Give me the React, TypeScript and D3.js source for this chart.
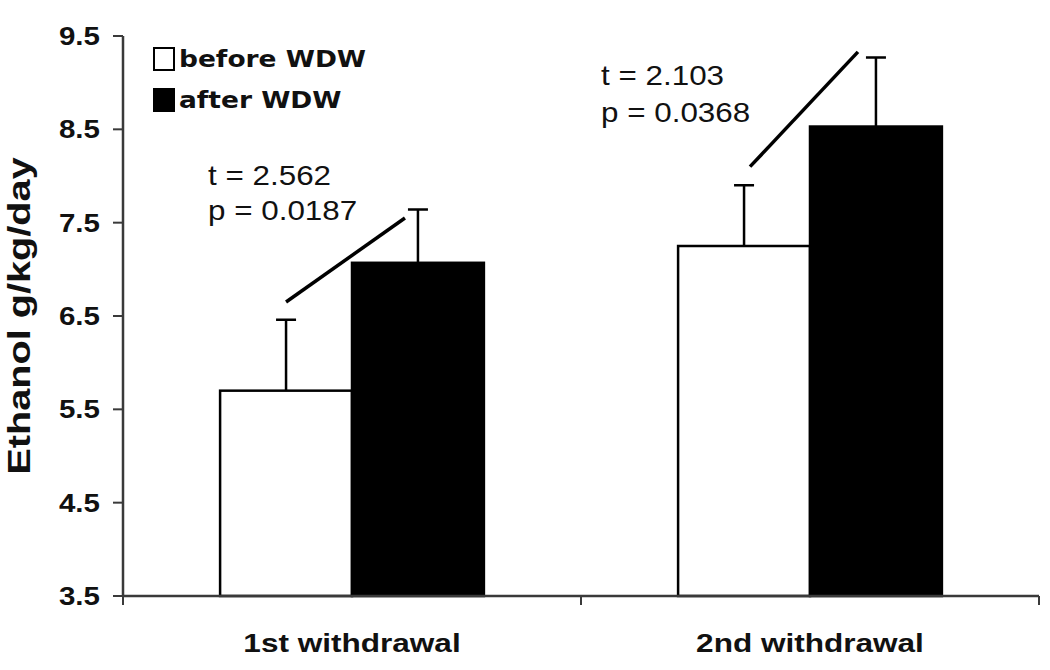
import React, { useEffect, useRef } from 'react'
import * as d3 from 'd3'

const categories = ['1st withdrawal', '2nd withdrawal']
const seriesNames = ['before WDW', 'after WDW']
const beforeValues = [5.7, 7.25]
const afterValues = [7.07, 8.53]
const beforeErr = [0.76, 0.65]
const afterErr = [0.57, 0.74]
const yTicks = [3.5, 4.5, 5.5, 6.5, 7.5, 8.5, 9.5]
const tLabels = ['t = 2.562', 't = 2.103']
const pLabels = ['p = 0.0187', 'p = 0.0368']
// significance line ends (in y units)
const sigFrom = [6.65, 8.1]
const sigTo = [7.55, 9.33]
// where the t / p text sits (y units)
const tTextY = [7.9, 8.975]
const pTextY = [7.53, 8.58]

const W = 1050
const H = 670
const FILLS = ['#ffffff', '#000000']

// stretch text horizontally, the figure's fonts are wider than Arial
function widen(sel: any, k: number) {
  sel.each(function (this: any) {
    const len = this.getComputedTextLength()
    d3.select(this).attr('textLength', len * k).attr('lengthAdjust', 'spacingAndGlyphs')
  })
}

export default function App() {
  const svgRef = useRef<SVGSVGElement>(null)

  useEffect(() => {
    document.body.style.margin = '0'
    const svg = d3.select(svgRef.current)
    svg.selectAll('*').remove()

    const left = 123
    const right = 1039
    const top = 36
    const bottom = 596

    const x = d3.scaleBand().domain(categories).range([left, right])
      .paddingInner(0.424).paddingOuter(0.212)
    const xs = d3.scaleBand().domain(seriesNames).range([0, x.bandwidth()])
    const y = d3.scaleLinear().domain([3.5, 9.5]).range([bottom, top])

    const rows = categories.map((c, i) => ({
      cat: c,
      bars: [
        { s: seriesNames[0], v: beforeValues[i], e: beforeErr[i], fill: FILLS[0] },
        { s: seriesNames[1], v: afterValues[i], e: afterErr[i], fill: FILLS[1] },
      ],
    }))

    const g = svg.append('g')

    // bars
    const grp = g.selectAll('g.grp').data(rows).join('g')
      .attr('class', 'grp')
      .attr('transform', d => `translate(${x(d.cat)},0)`)

    grp.selectAll('rect').data(d => d.bars).join('rect')
      .attr('x', d => xs(d.s)!)
      .attr('y', d => y(d.v))
      .attr('width', xs.bandwidth())
      .attr('height', d => y(3.5) - y(d.v))
      .attr('fill', d => d.fill)
      .attr('stroke', '#000')
      .attr('stroke-width', 2.5)

    // error bars (upper only)
    const cap = 10
    grp.selectAll('path.err').data(d => d.bars).join('path')
      .attr('class', 'err')
      .attr('fill', 'none')
      .attr('stroke', '#000')
      .attr('stroke-width', 2.5)
      .attr('d', d => {
        const cx = xs(d.s)! + xs.bandwidth() / 2
        return `M${cx},${y(d.v)}V${y(d.v + d.e)}M${cx - cap},${y(d.v + d.e)}H${cx + cap}`
      })

    // significance lines + text
    rows.forEach((r, i) => {
      const x0 = x(r.cat)!
      const bcx = x0 + xs(seriesNames[0])! + xs.bandwidth() / 2
      const acx = x0 + xs(seriesNames[1])! + xs.bandwidth() / 2
      g.append('line')
        .attr('x1', bcx + (i === 0 ? 0 : 6))
        .attr('y1', y(sigFrom[i]))
        .attr('x2', acx - (i === 0 ? 13 : 18))
        .attr('y2', y(sigTo[i]))
        .attr('stroke', '#000')
        .attr('stroke-width', 3.5)

      const tx = x0 + (i === 0 ? -12 : -77)
      const txt = g.append('g')
        .attr('font-family', '"Liberation Sans", Arial, sans-serif')
        .attr('font-size', 28)
        .attr('fill', '#111')
      txt.append('text').attr('x', tx).attr('y', y(tTextY[i])).text(tLabels[i])
      txt.append('text').attr('x', tx).attr('y', y(pTextY[i])).text(pLabels[i])
      widen(txt.selectAll('text'), 1.12)
    })

    // axes
    const axisColor = '#3a3a3a'
    g.append('line')
      .attr('x1', left).attr('x2', left)
      .attr('y1', y(9.5)).attr('y2', y(3.5))
      .attr('stroke', axisColor).attr('stroke-width', 2.5)
    g.append('line')
      .attr('x1', left).attr('x2', right)
      .attr('y1', bottom).attr('y2', bottom)
      .attr('stroke', axisColor).attr('stroke-width', 2.5)

    g.selectAll('line.ytick').data(yTicks).join('line')
      .attr('class', 'ytick')
      .attr('x1', left - 10).attr('x2', left)
      .attr('y1', d => y(d)).attr('y2', d => y(d))
      .attr('stroke', axisColor).attr('stroke-width', 2)

    const ylab = g.selectAll('text.ytl').data(yTicks).join('text')
      .attr('class', 'ytl')
      .attr('x', left - 23)
      .attr('y', d => y(d))
      .attr('dy', '0.36em')
      .attr('text-anchor', 'end')
      .attr('font-family', '"Liberation Sans", Arial, sans-serif')
      .attr('font-weight', 'bold')
      .attr('font-size', 25)
      .attr('fill', '#111')
      .text(d => d.toFixed(1))
    widen(ylab, 1.18)

    const xTickPos = [left, (x(categories[0])! + x(categories[1])! + x.bandwidth()) / 2, right]
    g.selectAll('line.xtick').data(xTickPos).join('line')
      .attr('class', 'xtick')
      .attr('x1', d => d).attr('x2', d => d)
      .attr('y1', bottom).attr('y2', bottom + 9)
      .attr('stroke', axisColor).attr('stroke-width', 2)

    const xlab = g.selectAll('text.xtl').data(categories).join('text')
      .attr('class', 'xtl')
      .attr('x', d => x(d)! + x.bandwidth() / 2)
      .attr('y', 652)
      .attr('text-anchor', 'middle')
      .attr('font-family', '"Liberation Sans", Arial, sans-serif')
      .attr('font-weight', 'bold')
      .attr('font-size', 26.5)
      .attr('fill', '#111')
      .text(d => d)
    widen(xlab, 1.19)

    const ytitle = g.append('text')
      .attr('transform', `translate(30,${(top + bottom) / 2}) rotate(-90)`)
      .attr('text-anchor', 'middle')
      .attr('font-family', '"Liberation Sans", Arial, sans-serif')
      .attr('font-weight', 'bold')
      .attr('font-size', 31)
      .attr('fill', '#111')
      .text('Ethanol g/kg/day')
    widen(ytitle, 1.28)

    // legend
    const lg = g.append('g').attr('transform', 'translate(154,48)')
    seriesNames.forEach((s, i) => {
      lg.append('rect')
        .attr('x', 0).attr('y', i * 41)
        .attr('width', 20).attr('height', 22)
        .attr('fill', FILLS[i])
        .attr('stroke', '#000').attr('stroke-width', 2)
      const t = lg.append('text')
        .attr('x', 25).attr('y', i * 41 + 19)
        .attr('font-family', '"DejaVu Sans", Verdana, sans-serif')
        .attr('font-weight', 'bold')
        .attr('font-size', 23)
        .attr('fill', '#111')
        .text(s)
      widen(t, 1.15)
    })
  }, [])

  return <svg ref={svgRef} width={W} height={H} style={{ display: 'block', background: '#fff' }} />
}
